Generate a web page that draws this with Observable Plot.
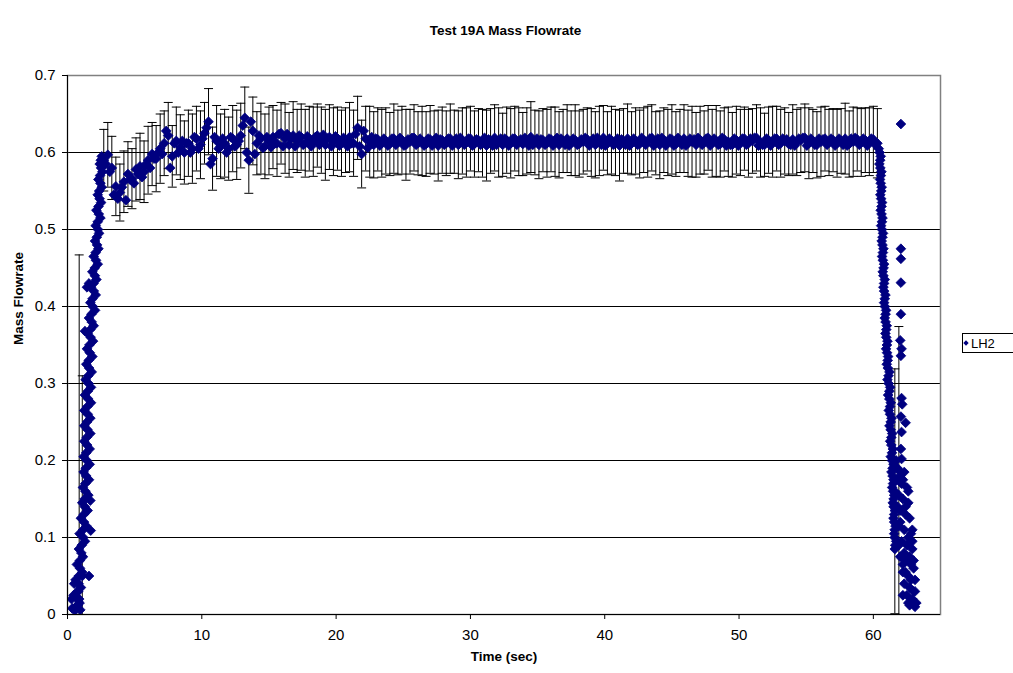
<!DOCTYPE html>
<html><head><meta charset="utf-8">
<script src="https://cdn.jsdelivr.net/npm/d3@7"></script>
<script src="https://cdn.jsdelivr.net/npm/@observablehq/plot@0.6"></script>
<style>html,body{margin:0;padding:0;background:#fff;overflow:hidden;}svg{display:block;}</style>
</head><body><div id="chart"></div>
<script>
const titleText = "Test 19A Mass Flowrate";
const xLabel = "Time (sec)";
const yLabel = "Mass Flowrate";
const seriesName = "LH2";
const xTicks = [0,10,20,30,40,50,60];
const yTicks = [0,0.1,0.2,0.3,0.4,0.5,0.6,0.7];
const yTickLabels = ["0","0.1","0.2","0.3","0.4","0.5","0.6","0.7"];

// start-up ramp
const rampTime = [0.35,0.9,0.45,1.0,0.6,1.1,0.7,1.15,0.85,1.3,0.9,1.4,1.0,1.5,1.1,1.55,1.15,1.6,1.2,1.65,1.2,1.65,1.25,1.7,1.25,1.7,1.25,1.75,1.3,1.75,1.35,1.8,1.4,1.85,1.45,1.9,1.5,1.95,1.6,2.05,1.7,2.1,1.75,2.15,1.85,2.25,1.95,2.3,2.05,2.35,2.1,2.45,2.15,2.5,2.25,2.55,2.3,2.6,2.4,2.55,
  0.3,0.55,0.75,0.95,0.5,0.8,1.45,1.6,1.3,1.6,1.73,1.7];
const rampFlow = [0.008,0.015,0.025,0.035,0.045,0.055,0.065,0.075,0.085,0.095,0.105,0.115,0.125,0.135,0.145,0.155,0.165,0.175,0.185,0.195,0.205,0.215,0.225,0.235,0.245,0.255,0.265,0.275,0.285,0.295,0.305,0.315,0.325,0.335,0.345,0.355,0.365,0.375,0.385,0.395,0.405,0.415,0.425,0.435,0.445,0.455,0.465,0.475,0.485,0.495,0.505,0.515,0.525,0.535,0.545,0.555,0.565,0.575,0.585,0.595,
  0.02,0.005,0.012,0.006,0.04,0.03,0.425,0.43,0.368,0.05,0.109,0.148];
const rampCoreTime = [0.62,0.72,0.74,0.83,0.84,0.93,0.92,1.03,1.06,1.17,1.16,1.23,1.22,1.29,1.28,1.34,1.33,1.39,1.36,1.44,
  1.4,1.46,1.43,1.49,1.45,1.51,1.48,1.54,1.51,1.57,1.55,1.61,1.58,1.66,1.63,1.72,1.7,1.8,1.78,1.88,
  1.86,1.96,1.94,2.04,2.03,2.12,2.1,2.2,2.18,2.27,2.25,2.33,2.31,2.39,2.36,2.45,2.42,2.5,2.48];
const rampCoreFlow = [0.01,0.02,0.03,0.04,0.05,0.06,0.07,0.08,0.09,0.10,0.11,0.12,0.13,0.14,0.15,0.16,0.17,0.18,0.19,0.20,
  0.21,0.22,0.23,0.24,0.25,0.26,0.27,0.28,0.29,0.30,0.31,0.32,0.33,0.34,0.35,0.36,0.37,0.38,0.39,0.40,
  0.41,0.42,0.43,0.44,0.45,0.46,0.47,0.48,0.49,0.50,0.51,0.52,0.53,0.54,0.55,0.56,0.57,0.58,0.59];

// steady flow, with error bars
const plateauTime = [2.7,3,3.3,3.6,3.9,4.2,4.5,4.8,5.1,5.4,
  5.7,6,6.3,6.6,6.9,7.2,7.5,7.8,8.1,8.4,
  8.7,9,9.3,9.6,9.9,10.2,10.5,10.8,11.1,11.4,
  11.7,12,12.3,12.6,12.9,13.2,13.5,13.8,14.1,14.4,
  14.7,15,15.3,15.6,15.9,16.2,16.5,16.8,17.1,17.4,
  17.7,18,18.3,18.6,18.9,19.2,19.5,19.8,20.1,20.4,
  20.7,21,21.3,21.6,21.9,22.2,22.5,22.8,23.1,23.4,
  23.7,24,24.3,24.6,24.9,25.2,25.5,25.8,26.1,26.4,
  26.7,27,27.3,27.6,27.9,28.2,28.5,28.8,29.1,29.4,
  29.7,30,30.3,30.6,30.9,31.2,31.5,31.8,32.1,32.4,
  32.7,33,33.3,33.6,33.9,34.2,34.5,34.8,35.1,35.4,
  35.7,36,36.3,36.6,36.9,37.2,37.5,37.8,38.1,38.4,
  38.7,39,39.3,39.6,39.9,40.2,40.5,40.8,41.1,41.4,
  41.7,42,42.3,42.6,42.9,43.2,43.5,43.8,44.1,44.4,
  44.7,45,45.3,45.6,45.9,46.2,46.5,46.8,47.1,47.4,
  47.7,48,48.3,48.6,48.9,49.2,49.5,49.8,50.1,50.4,
  50.7,51,51.3,51.6,51.9,52.2,52.5,52.8,53.1,53.4,
  53.7,54,54.3,54.6,54.9,55.2,55.5,55.8,56.1,56.4,
  56.7,57,57.3,57.6,57.9,58.2,58.5,58.8,59.1,59.4,
  59.7,60,60.3];
const plateauFlow = [0.590,0.597,0.580,0.556,0.548,0.562,0.572,0.566,0.578,0.582,
  0.575,0.590,0.598,0.592,0.605,0.612,0.622,0.595,0.615,0.607,
  0.600,0.612,0.605,0.618,0.610,0.625,0.640,0.592,0.615,0.608,
  0.612,0.605,0.618,0.610,0.622,0.645,0.590,0.628,0.612,0.618,
  0.608,0.615,0.620,0.612,0.625,0.618,0.610,0.622,0.615,0.620,
  0.612,0.618,0.614,0.622,0.616,0.610,0.620,0.614,0.618,0.612,
  0.616,0.620,0.612,0.632,0.598,0.618,0.614,0.610,0.617,0.612,
  0.615,0.611,0.618,0.613,0.616,0.610,0.614,0.619,0.612,0.615,
  0.611,0.617,0.613,0.609,0.616,0.612,0.618,0.614,0.610,0.615,
  0.613,0.618,0.611,0.616,0.612,0.609,0.615,0.619,0.613,0.610,
  0.616,0.612,0.618,0.614,0.611,0.615,0.620,0.613,0.610,0.616,
  0.612,0.617,0.614,0.610,0.615,0.618,0.612,0.616,0.611,0.614,
  0.617,0.613,0.610,0.615,0.619,0.612,0.616,0.613,0.609,0.615,
  0.618,0.612,0.615,0.611,0.616,0.614,0.619,0.612,0.610,0.616,
  0.613,0.617,0.611,0.615,0.618,0.612,0.614,0.610,0.616,0.613,
  0.619,0.612,0.615,0.611,0.617,0.614,0.610,0.616,0.613,0.618,
  0.612,0.615,0.619,0.613,0.610,0.616,0.614,0.618,0.612,0.615,
  0.611,0.617,0.613,0.616,0.619,0.612,0.615,0.610,0.614,0.618,
  0.613,0.616,0.612,0.615,0.618,0.611,0.614,0.617,0.613,0.616,
  0.614,0.617,0.612];
const plateauError = [0.040,0.042,0.041,0.038,0.037,0.040,0.042,0.039,0.041,0.043,
  0.040,0.044,0.041,0.043,0.045,0.042,0.043,0.040,0.044,0.042,
  0.041,0.043,0.045,0.042,0.044,0.040,0.043,0.041,0.046,0.042,
  0.044,0.041,0.043,0.045,0.042,0.040,0.043,0.044,0.041,0.046,
  0.042,0.044,0.041,0.043,0.040,0.045,0.042,0.044,0.041,0.043,
  0.044,0.042,0.045,0.041,0.043,0.046,0.042,0.044,0.041,0.043,
  0.042,0.045,0.043,0.041,0.044,0.042,0.046,0.043,0.041,0.044,
  0.043,0.041,0.045,0.042,0.044,0.046,0.042,0.043,0.041,0.045,
  0.042,0.044,0.041,0.046,0.043,0.042,0.045,0.041,0.044,0.043,
  0.045,0.042,0.043,0.041,0.044,0.046,0.042,0.043,0.045,0.041,
  0.043,0.045,0.042,0.044,0.041,0.043,0.046,0.042,0.044,0.041,
  0.044,0.042,0.045,0.043,0.041,0.044,0.042,0.046,0.043,0.042,
  0.041,0.044,0.043,0.045,0.042,0.041,0.044,0.043,0.046,0.042,
  0.045,0.041,0.043,0.044,0.042,0.046,0.043,0.041,0.044,0.042,
  0.043,0.045,0.042,0.041,0.044,0.043,0.046,0.042,0.044,0.041,
  0.042,0.044,0.046,0.043,0.041,0.045,0.042,0.044,0.043,0.041,
  0.044,0.042,0.043,0.045,0.041,0.043,0.046,0.042,0.044,0.043,
  0.041,0.045,0.043,0.042,0.044,0.046,0.041,0.043,0.045,0.042,
  0.043,0.041,0.044,0.042,0.046,0.043,0.045,0.041,0.044,0.042,
  0.044,0.043,0.045];
// in-between samples (no error bars)
const plateauMidTime = [2.85,3.15,3.45,3.75,4.05,4.35,4.65,4.95,5.25,5.55,
  5.85,6.15,6.45,6.75,7.05,7.35,7.65,7.95,8.25,8.55,
  8.85,9.15,9.45,9.75,10.05,10.35,10.65,10.95,11.25,11.55,
  11.85,12.15,12.45,12.75,13.05,13.35,13.65,13.95,14.25,14.55,
  14.85,15.15,15.45,15.75,16.05,16.35,16.65,16.95,17.25,17.55,
  17.85,18.15,18.45,18.75,19.05,19.35,19.65,19.95,20.25,20.55,
  20.85,21.15,21.45,21.75,22.05,22.35,22.65,22.95,23.25,23.55,
  23.85,24.15,24.45,24.75,25.05,25.35,25.65,25.95,26.25,26.55,
  26.85,27.15,27.45,27.75,28.05,28.35,28.65,28.95,29.25,29.55,
  29.85,30.15,30.45,30.75,31.05,31.35,31.65,31.95,32.25,32.55,
  32.85,33.15,33.45,33.75,34.05,34.35,34.65,34.95,35.25,35.55,
  35.85,36.15,36.45,36.75,37.05,37.35,37.65,37.95,38.25,38.55,
  38.85,39.15,39.45,39.75,40.05,40.35,40.65,40.95,41.25,41.55,
  41.85,42.15,42.45,42.75,43.05,43.35,43.65,43.95,44.25,44.55,
  44.85,45.15,45.45,45.75,46.05,46.35,46.65,46.95,47.25,47.55,
  47.85,48.15,48.45,48.75,49.05,49.35,49.65,49.95,50.25,50.55,
  50.85,51.15,51.45,51.75,52.05,52.35,52.65,52.95,53.25,53.55,
  53.85,54.15,54.45,54.75,55.05,55.35,55.65,55.95,56.25,56.55,
  56.85,57.15,57.45,57.75,58.05,58.35,58.65,58.95,59.25,59.55,
  59.85,60.15];
const plateauMidFlow = [0.585,0.575,0.545,0.540,0.555,0.538,0.565,0.560,0.572,0.568,
  0.585,0.580,0.592,0.600,0.598,0.628,0.580,0.612,0.600,0.615,
  0.612,0.600,0.620,0.605,0.618,0.632,0.585,0.620,0.605,0.618,
  0.600,0.620,0.608,0.615,0.635,0.600,0.640,0.598,0.622,0.606,
  0.620,0.607,0.612,0.624,0.608,0.624,0.618,0.608,0.622,0.610,
  0.621,0.608,0.620,0.610,0.623,0.618,0.608,0.621,0.609,0.619,
  0.608,0.612,0.624,0.608,0.628,0.606,0.620,0.618,0.609,0.618,
  0.609,0.618,0.610,0.619,0.609,0.617,0.619,0.610,0.618,0.609,
  0.618,0.609,0.619,0.617,0.610,0.618,0.609,0.618,0.619,0.610,
  0.618,0.609,0.617,0.610,0.619,0.617,0.609,0.610,0.618,0.618,
  0.609,0.618,0.610,0.617,0.619,0.609,0.610,0.618,0.617,0.610,
  0.618,0.609,0.619,0.618,0.610,0.609,0.618,0.610,0.617,0.619,
  0.609,0.618,0.619,0.610,0.609,0.618,0.610,0.618,0.617,0.610,
  0.609,0.618,0.610,0.619,0.610,0.618,0.609,0.618,0.619,0.609,
  0.618,0.609,0.619,0.610,0.609,0.618,0.617,0.619,0.610,0.618,
  0.609,0.618,0.610,0.619,0.609,0.610,0.618,0.609,0.618,0.610,
  0.618,0.619,0.609,0.610,0.618,0.609,0.618,0.610,0.618,0.617,
  0.610,0.609,0.618,0.619,0.609,0.618,0.610,0.618,0.617,0.610,
  0.618,0.609,0.618,0.610,0.609,0.618,0.619,0.610,0.618,0.609,
  0.618,0.610];

// shutdown drop
const tailTime = [60.4,60.55,60.45,60.6,60.5,60.62,60.52,60.65,60.55,60.68,
  60.58,60.72,60.62,60.75,60.65,60.8,60.7,60.85,60.75,60.9,
  60.8,60.95,60.85,61.0,60.9,61.05,60.95,61.1,61.0,61.2,
  61.05,61.25,61.1,61.3,61.15,61.35,61.2,61.4,61.25,61.45,
  61.3,61.5,61.35,61.5,61.4,61.55,61.45,61.6,61.5,61.65,
  61.55,61.7,61.6];
const tailFlow = [0.605,0.595,0.585,0.575,0.565,0.555,0.545,0.535,0.525,0.515,
  0.505,0.495,0.485,0.475,0.465,0.455,0.445,0.435,0.425,0.415,
  0.405,0.395,0.385,0.375,0.365,0.355,0.345,0.335,0.325,0.315,
  0.305,0.295,0.285,0.275,0.265,0.255,0.245,0.235,0.225,0.215,
  0.205,0.195,0.185,0.175,0.165,0.155,0.145,0.135,0.125,0.115,
  0.105,0.095,0.085];
const tailCoreTime = [60.47,60.51,60.52,60.56,60.55,60.59,60.58,60.61,60.61,60.64,
  60.64,60.68,60.68,60.71,60.71,60.76,60.75,60.8,60.8,60.85,
  60.86,60.91,60.91,60.96,60.96,61.01,61.02,61.07,61.08,61.13,
  61.14,61.19,61.19,61.24,61.24,61.29,61.29,61.34,61.34,61.39,
  61.39,61.43,61.43,61.47,61.47,61.51,61.51,61.55,61.55,61.59,
  61.59,61.63];
const tailCoreFlow = [0.60,0.59,0.58,0.57,0.56,0.55,0.54,0.53,0.52,0.51,
  0.50,0.49,0.48,0.47,0.46,0.45,0.44,0.43,0.42,0.41,
  0.40,0.39,0.38,0.37,0.36,0.35,0.34,0.33,0.32,0.31,
  0.30,0.29,0.28,0.27,0.26,0.25,0.24,0.23,0.22,0.21,
  0.20,0.19,0.18,0.17,0.16,0.15,0.14,0.13,0.12,0.11,
  0.10,0.09];

// end-of-run scatter
const scatterTime = [61.8,62.0,62.3,62.1,62.5,61.9,62.2,62.6,62.0,62.4,62.7,61.9,62.3,62.8,62.1,62.5,62.9,62.0,62.4,62.8,63.0,62.2,62.6,63.1,62.3,62.7,63.0,62.5,62.9,63.2,62.7,63.1,
  61.7,62.2,62.6,61.8,62.4,62.9,62.0,62.6,61.9,62.3,62.7,63.0,62.2,62.8,62.4,63.1,62.6,62.2,61.7,62.9,
  62.05,62.05,62.05,62.05,62.05,62.0,62.1,62.05,62.1,62.15,62.05,62.4,62.1,62.05,62.1];
const scatterFlow = [0.19,0.18,0.185,0.17,0.165,0.155,0.15,0.145,0.135,0.13,0.125,0.115,0.11,0.105,0.095,0.09,0.085,0.075,0.07,0.065,0.06,0.055,0.05,0.045,0.04,0.035,0.03,0.025,0.02,0.015,0.012,0.01,
  0.175,0.175,0.16,0.14,0.14,0.11,0.12,0.1,0.09,0.08,0.075,0.07,0.065,0.045,0.055,0.03,0.015,0.025,0.2,0.095,
  0.637,0.475,0.462,0.431,0.39,0.356,0.345,0.336,0.281,0.273,0.257,0.249,0.237,0.215,0.202];

// transient points carrying large error bars
const barTime = [0.87,1.1,61.6,61.9];
const barFlow = [0.02,0.05,0.16,0.187];
const barError = [0.447,0.26,0.159,0.187];

const points = [
  ...rampTime.map((t,i)=>({t, y:rampFlow[i]})),
  ...rampCoreTime.map((t,i)=>({t, y:rampCoreFlow[i]})),
  ...plateauTime.map((t,i)=>({t, y:plateauFlow[i], err:plateauError[i]})),
  ...plateauMidTime.map((t,i)=>({t, y:plateauMidFlow[i]})),
  ...tailTime.map((t,i)=>({t, y:tailFlow[i]})),
  ...tailCoreTime.map((t,i)=>({t, y:tailCoreFlow[i]})),
  ...scatterTime.map((t,i)=>({t, y:scatterFlow[i]})),
  ...barTime.map((t,i)=>({t, y:barFlow[i], err:barError[i]}))
];
const bars = points.filter(d => d.err != null).map(d => ({t:d.t, lo:d.y-d.err, hi:d.y+d.err}));
const caps = bars.flatMap(b => [{t:b.t, y:b.lo}, {t:b.t, y:b.hi}]).filter(c => c.y >= 0 && c.y <= 0.7);
const capSymbol = {draw(ctx){ ctx.moveTo(-4.5,0); ctx.lineTo(4.5,0); }};

const font = "'Liberation Sans', Arial, Helvetica, sans-serif";
const chart = Plot.plot({
  width: 1013, height: 673,
  marginLeft: 67, marginRight: 73, marginTop: 75, marginBottom: 59,
  style: {fontFamily: font, fontSize: "15px", background: "#fff", color: "#000"},
  x: {domain: [0, 65]},
  y: {domain: [0, 0.7]},
  marks: [
    Plot.ruleY(yTicks.filter(v => v > 0 && v < 0.7), {stroke: "#000", strokeWidth: 1}),
    Plot.frame({stroke: "#808080", strokeWidth: 1.5}),
    Plot.ruleX(bars, {x: "t", y1: "lo", y2: "hi", stroke: "#000", strokeWidth: 1, clip: true}),
    Plot.dot(caps, {x: "t", y: "y", symbol: capSymbol, fill: "none", stroke: "#000", strokeWidth: 1, r: 4}),
    Plot.dot(points, {x: "t", y: "y", symbol: "diamond2", fill: "#000080", stroke: "#000080", strokeWidth: 0.8, r: 4.4, clip: true}),
    Plot.ruleX([0], {stroke: "#000", strokeWidth: 1}),
    Plot.ruleY([0], {stroke: "#000", strokeWidth: 1}),
    Plot.axisX({ticks: xTicks, tickSize: 5, tickPadding: 10, label: null, fontSize: 15}),
    Plot.axisY({ticks: yTicks, tickSize: 5, tickPadding: 7, label: null, fontSize: 15, tickFormat: (d, i) => yTickLabels[i]}),
    Plot.text([titleText], {frameAnchor: "top", dx: 1.5, dy: -50, fontWeight: "bold", fontSize: 13.5}),
    Plot.text([xLabel], {frameAnchor: "bottom", dy: 46, fontWeight: "bold", fontSize: 13.5}),
    Plot.text([yLabel], {frameAnchor: "left", dx: -49, rotate: -90, fontWeight: "bold", fontSize: 13.5})
  ]
});
document.getElementById("chart").appendChild(chart);

// legend
const svg = d3.select(chart);
const lg = svg.append("g").attr("text-anchor", "start");
lg.append("rect").attr("x", 962.5).attr("y", 333.5).attr("width", 80).attr("height", 19)
  .attr("fill", "#fff").attr("stroke", "#000").attr("stroke-width", 1);
lg.append("path").attr("d", d3.symbol(d3.symbolDiamond2, 18)()).attr("transform", "translate(966,343)").attr("fill", "#000080");
lg.append("text").attr("x", 971).attr("y", 347.5).attr("text-anchor", "start").attr("font-family", font).attr("font-size", 13).attr("fill", "#000").text(seriesName);
</script>
</body></html>
